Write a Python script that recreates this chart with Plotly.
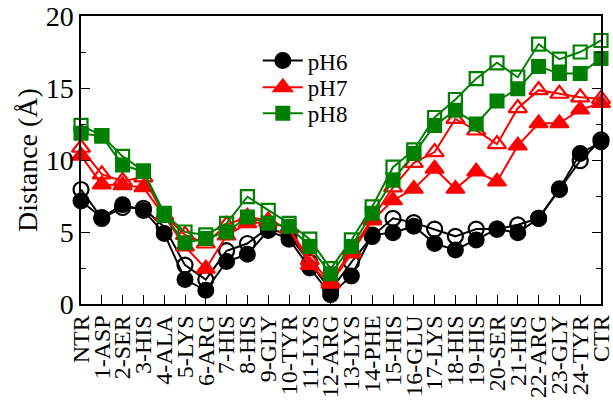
import plotly.graph_objects as go

residues = ["NTR", "1-ASP", "2-SER", "3-HIS", "4-ALA", "5-LYS", "6-ARG", "7-HIS", "8-HIS",
            "9-GLY", "10-TYR", "11-LYS", "12-ARG", "13-LYS", "14-PHE", "15-HIS", "16-GLU",
            "17-LYS", "18-HIS", "19-HIS", "20-SER", "21-HIS", "22-ARG", "23-GLY", "24-TYR", "CTR"]

ph6_filled = [7.15, 6.0, 6.9, 6.5, 4.9, 1.7, 0.95, 2.95, 3.45, 5.1, 4.5, 2.5, 0.65,
              1.95, 4.8, 4.95, 5.4, 4.2, 3.75, 4.45, 5.2, 4.95, 5.95, 8.0, 10.45, 11.25]
ph6_open = [7.95, 5.95, 6.7, 6.65, 5.35, 2.7, 1.7, 3.7, 4.2, 5.3, 4.75, 2.9, 0.95,
            2.9, 4.7, 5.95, 5.65, 5.2, 4.7, 5.2, 5.2, 5.5, 5.95, 7.95, 9.95, 11.4]
ph7_filled = [10.3, 8.3, 8.25, 8.1, 6.1, 4.0, 2.45, 4.75, 5.6, 5.7, 5.25, 2.7, 1.4,
              3.5, 5.8, 7.2, 8.0, 9.4, 8.0, 9.2, 8.5, 11.0, 12.55, 12.55, 13.5, 13.95]
ph7_open = [10.85, 9.0, 8.55, 8.8, 6.15, 4.8, 4.2, 5.5, 6.05, 5.8, 5.25, 3.05, 1.55,
            3.75, 5.95, 8.1, 9.8, 10.55, 12.85, 12.05, 11.1, 13.6, 14.85, 14.6, 14.35, 14.25]
ph8_filled = [11.85, 11.65, 9.65, 9.2, 6.15, 4.25, 4.55, 5.0, 6.05, 5.6, 5.4, 4.0, 2.1,
              4.0, 6.3, 8.6, 10.45, 12.4, 13.45, 12.5, 14.1, 14.95, 16.5, 16.0, 16.0, 17.05]
ph8_open = [12.4, 11.7, 10.25, 9.25, 6.3, 5.0, 4.8, 5.6, 7.45, 6.5, 5.6, 4.5, 2.45,
            4.45, 6.75, 9.5, 10.7, 12.95, 14.2, 15.65, 16.75, 15.75, 18.05, 17.0, 17.5, 18.3]

series = [
    ("pH6", "black", "circle", ph6_filled, ph6_open, 15, "legend"),
    ("pH7", "red", "triangle-up", ph7_filled, ph7_open, 16, "legend2"),
    ("pH8", "green", "square", ph8_filled, ph8_open, 13, "legend3"),
]

xs = list(range(len(residues)))
fig = go.Figure()
for name, color, sym, filled, opened, size, leg in series:
    fig.add_trace(go.Scatter(
        x=xs, y=filled, mode="lines+markers", name=name, legend=leg, cliponaxis=False,
        line=dict(color=color, width=2),
        marker=dict(symbol=sym, size=size, color=color, line=dict(color=color, width=2)),
    ))
    fig.add_trace(go.Scatter(
        x=xs, y=opened, mode="lines+markers", name=name + " open", showlegend=False,
        cliponaxis=False,
        line=dict(color=color, width=2),
        marker=dict(symbol=sym + "-open", size=size, color=color, line=dict(color=color, width=2.2)),
    ))

font_family = "Liberation Serif"
leg_common = dict(x=0.34, xanchor="left", yanchor="middle",
                  bgcolor="rgba(0,0,0,0)", font=dict(size=23, family=font_family, color="black"),
                  itemwidth=40)
fig.update_layout(
    width=613, height=402,
    margin=dict(l=81, r=12, t=16, b=98, autoexpand=False),
    paper_bgcolor="white", plot_bgcolor="white",
    font=dict(family=font_family, color="black", size=20),
    showlegend=True,
    legend=dict(y=0.845, **leg_common),
    legend2=dict(y=0.752, **leg_common),
    legend3=dict(y=0.662, **leg_common),
    xaxis=dict(
        range=[0, 25], tickmode="array", tickvals=xs, ticktext=residues,
        tickangle=-90, ticks="inside", ticklen=9, tickwidth=1, tickcolor="black",
        showline=True, linecolor="black", linewidth=1.5, mirror=True,
        showgrid=False, zeroline=False, tickfont=dict(size=24, family=font_family),
        automargin=False, ticklabeloverflow="allow",
    ),
    yaxis=dict(
        range=[0, 20], tickmode="linear", tick0=0, dtick=5,
        ticks="inside", ticklen=9, tickwidth=1, tickcolor="black",
        minor=dict(dtick=2.5, ticks="inside", ticklen=5, tickcolor="black", showgrid=False),
        showline=True, linecolor="black", linewidth=1.5, mirror="ticks",
        showgrid=False, zeroline=False, tickfont=dict(size=28, family=font_family),
        automargin=False, ticklabeloverflow="allow",
        title=dict(text="Distance (Å)", font=dict(size=28, family=font_family), standoff=0),
    ),
)

fig.write_html("out.html", config={"displayModeBar": False},
               post_script="document.body.style.margin='0';")
